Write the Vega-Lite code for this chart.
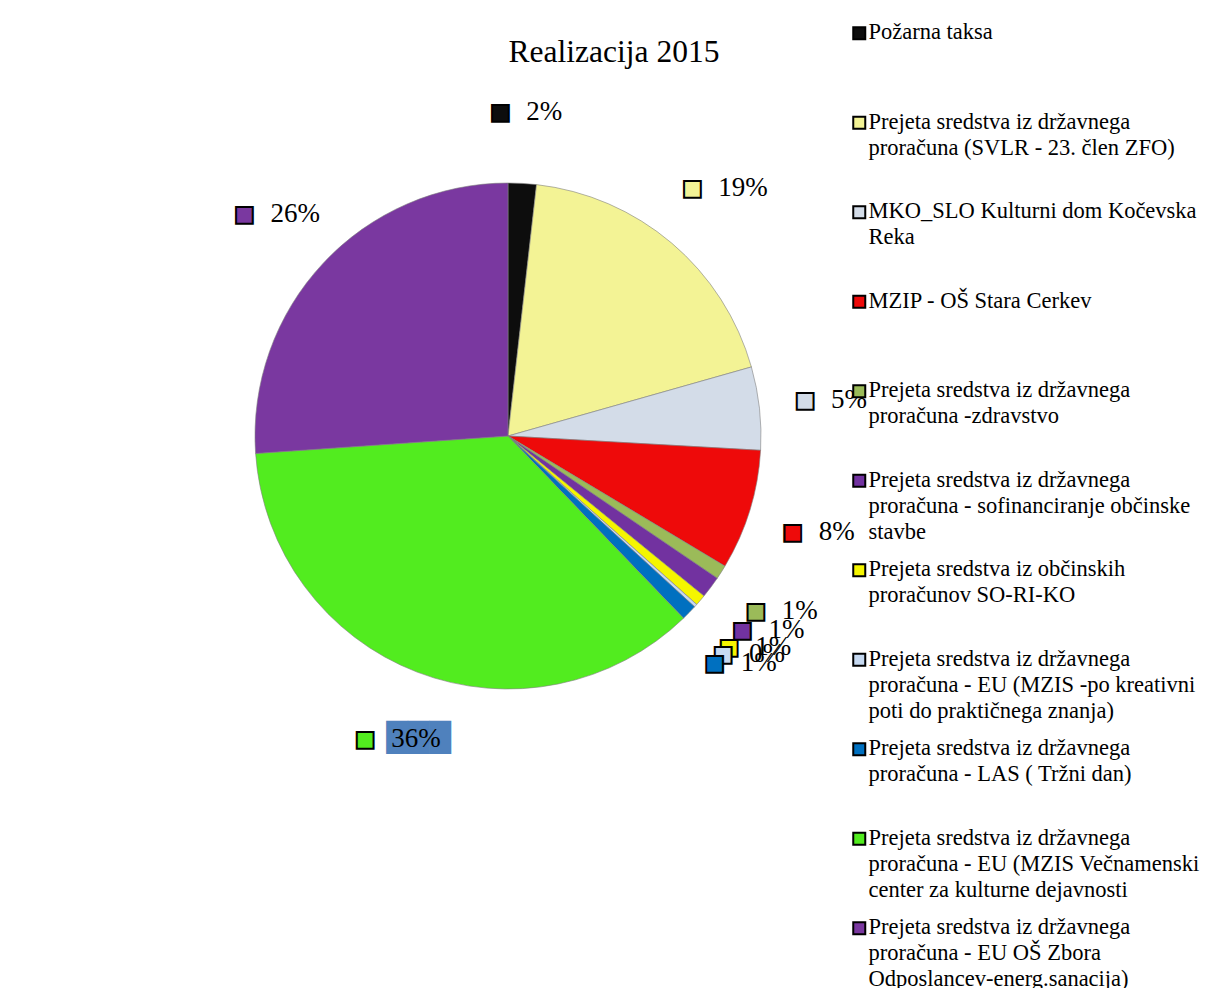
{
  "$schema": "https://vega.github.io/schema/vega-lite/v6.json",
  "width": 1000,
  "height": 856,
  "padding": {"left": 8, "top": 8, "right": 0, "bottom": 0},
  "autosize": {"type": "pad"},
  "background": "white",
  "config": {"view": {"stroke": null}},
  "title": {
    "text": "Realizacija 2015",
    "font": "Liberation Serif",
    "fontSize": 31.5,
    "fontWeight": "normal",
    "color": "black",
    "anchor": "middle",
    "dx": 106,
    "offset": -60
  },
  "data": {
    "values": [
      {"rank": 1, "category": "Požarna taksa", "share": 0.018},
      {"rank": 2, "category": "Prejeta sredstva iz državnega\nproračuna (SVLR - 23. člen ZFO)", "share": 0.188},
      {"rank": 3, "category": "MKO_SLO Kulturni dom Kočevska\nReka", "share": 0.053},
      {"rank": 4, "category": "MZIP - OŠ Stara Cerkev", "share": 0.077},
      {"rank": 5, "category": "Prejeta sredstva iz državnega\nproračuna -zdravstvo", "share": 0.009},
      {"rank": 6, "category": "Prejeta sredstva iz državnega\nproračuna - sofinanciranje občinske\nstavbe", "share": 0.014},
      {"rank": 7, "category": "Prejeta sredstva iz občinskih\nproračunov SO-RI-KO", "share": 0.007},
      {"rank": 8, "category": "Prejeta sredstva iz državnega\nproračuna - EU (MZIS -po kreativni\npoti do praktičnega znanja)", "share": 0.002},
      {"rank": 9, "category": "Prejeta sredstva iz državnega\nproračuna - LAS ( Tržni dan)", "share": 0.010},
      {"rank": 10, "category": "Prejeta sredstva iz državnega\nproračuna - EU (MZIS Večnamenski\ncenter za kulturne dejavnosti", "share": 0.361},
      {"rank": 11, "category": "Prejeta sredstva iz državnega\nproračuna - EU OŠ Zbora\nOdposlancev-energ.sanacija)", "share": 0.261}
    ]
  },
  "encoding": {
    "theta": {"field": "share", "type": "quantitative", "stack": true},
    "order": {"field": "rank", "type": "quantitative"}
  },
  "layer": [
    {
      "mark": {"type": "arc", "outerRadius": 253, "stroke": "#7f7f7f", "strokeWidth": 0.6},
      "encoding": {
        "color": {
          "field": "category",
          "type": "nominal",
          "sort": null,
          "scale": {"range": ["#0d0d0d", "#f3f395", "#d3dce8", "#ee0a0a", "#9bbb59", "#7232a0", "#f5f500", "#c6d9f1", "#0070c0", "#52ec1f", "#7a38a0"]},
          "legend": {
            "orient": "none",
            "legendX": 840,
            "legendY": 14,
            "title": null,
            "padding": 0,
            "symbolType": "square",
            "symbolSize": 144,
            "symbolStrokeColor": "black",
            "symbolStrokeWidth": 2,
            "symbolOpacity": 1,
            "labelFont": "Liberation Serif",
            "labelFontSize": 22.5,
            "labelColor": "black",
            "labelLimit": 0,
            "labelOffset": -2,
            "labelBaseline": "top",
            "labelExpr": "slice(split(datum.label + '\\n \\n ', '\\n'), 0, 3)",
            "rowPadding": 14.5,
            "encode": {"labels": {"update": {"lineHeight": {"value": 26}, "dy": {"value": -12}}}}
          }
        }
      }
    },
    {
      "mark": {"type": "text", "radius": 325, "font": "DejaVu Sans", "fontSize": 22, "text": "■", "dx": -26, "stroke": "black", "strokeWidth": 2},
      "encoding": {
        "color": {"field": "category", "type": "nominal", "sort": null, "legend": null}
      }
    },
    {
      "mark": {"type": "text", "radius": 325, "font": "DejaVu Sans", "fontSize": 28, "text": "███", "dx": -5, "align": "left", "baseline": "middle", "color": "#4f81bd"},
      "encoding": {
        "detail": {"field": "category", "type": "nominal"},
        "opacity": {"condition": {"test": "datum.rank == 10", "value": 1}, "value": 0}
      }
    },
    {
      "mark": {"type": "text", "radius": 325, "font": "Liberation Serif", "fontSize": 27, "align": "left", "baseline": "middle"},
      "encoding": {
        "detail": {"field": "category", "type": "nominal"},
        "color": {"value": "black"},
        "text": {"field": "share", "type": "quantitative", "format": ".0%"}
      }
    }
  ]
}
